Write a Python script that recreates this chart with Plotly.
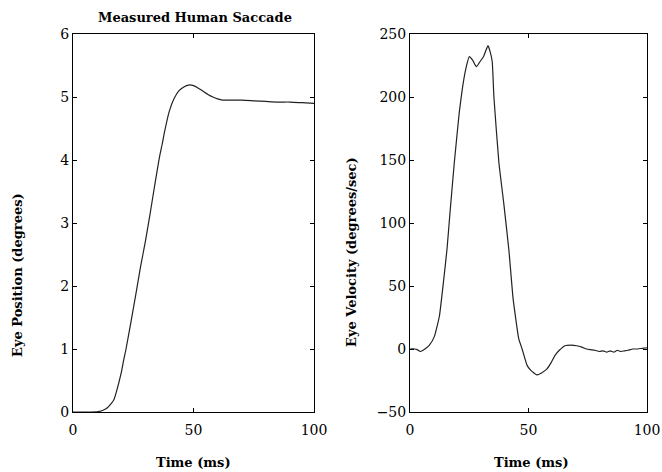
import plotly.graph_objects as go

# Eye position (degrees) vs time (ms)
pos_t = [0, 5, 10, 11, 12, 14, 16, 17, 18, 20, 21, 22, 24, 26, 28, 29, 30, 32, 34, 36,
         37, 38, 40, 42, 44, 46, 48, 50, 52, 54, 56, 58, 60, 62, 65, 70, 75, 80, 85, 90, 95, 100]
pos_v = [0, 0, 0.003, 0.01, 0.02, 0.06, 0.14, 0.2, 0.32, 0.62, 0.82, 1.0, 1.42, 1.85, 2.3, 2.5,
         2.7, 3.15, 3.62, 4.07, 4.25, 4.45, 4.78, 4.98, 5.1, 5.16, 5.19, 5.18, 5.14, 5.09, 5.04,
         5.0, 4.97, 4.95, 4.95, 4.95, 4.94, 4.93, 4.92, 4.92, 4.91, 4.9]

# Eye velocity (degrees/sec) vs time (ms)
vel_t = [0, 2, 3, 4.3, 5.5, 7, 8.2, 10.3, 12.4, 14.1, 15.6, 17, 18.7, 20.8, 22.2, 23.5, 25,
         26.5, 28, 29.5, 31, 32.9, 33.8, 34.7, 35.4, 37.5, 39.6, 41.7, 43.5, 45.9, 47.3, 49.4,
         51, 53.6, 55.5, 57.7, 59.5, 61.2, 63, 65.4, 68, 70.3, 72.5, 74.5, 76, 78, 80, 81.5,
         83, 84.5, 86, 87.5, 89, 90.5, 92, 94, 96, 98, 100]
vel_v = [0, 0, -0.5, -2, -1, 1, 3, 10, 26, 53, 79, 111, 148, 188, 208, 222, 232,
         229, 224, 228, 232, 240.7, 236, 228, 200, 148, 115, 79, 40, 8, 0, -13,
         -17, -20.6, -19, -16, -11, -5, -1, 2.6, 3, 2.6, 1.5, 0, -0.5, -1, -2, -1.5,
         -2.5, -1.5, -2.5, -1, -2, -1.5, -1, 0, 0, 0.5, 1]

x_ticks = [0, 50, 100]
pos_ticks = [0, 1, 2, 3, 4, 5, 6]
vel_ticks = [-50, 0, 50, 100, 150, 200, 250]

W, H = 662, 472
serif = "DejaVu Serif"
line_col = "#222222"

fig = go.Figure()
fig.add_trace(go.Scatter(x=pos_t, y=pos_v, mode="lines", xaxis="x", yaxis="y",
                         line=dict(color=line_col, width=1.2, shape="spline", smoothing=0.6),
                         showlegend=False))
fig.add_trace(go.Scatter(x=vel_t, y=vel_v, mode="lines", xaxis="x2", yaxis="y2",
                         line=dict(color=line_col, width=1.2, shape="spline", smoothing=0.4),
                         showlegend=False))

ax_common = dict(showline=True, linecolor="black", linewidth=1, mirror="ticks",
                 ticks="inside", ticklen=4, tickcolor="black", showgrid=False,
                 zeroline=False, tickfont=dict(family=serif, size=14, color="black"))

y_bot = 1 - 412 / H
y_top = 1 - 34 / H
fig.update_layout(
    width=W, height=H, autosize=False,
    margin=dict(l=0, r=0, t=0, b=0, pad=0, autoexpand=False),
    paper_bgcolor="white", plot_bgcolor="white",
    xaxis=dict(domain=[73 / W, 314 / W], range=[0, 100], tickvals=x_ticks,
               ticklabelstandoff=5, anchor="y", **ax_common),
    yaxis=dict(domain=[y_bot, y_top], range=[0, 6], tickvals=pos_ticks,
               anchor="x", **ax_common),
    xaxis2=dict(domain=[410 / W, 647 / W], range=[0, 100], tickvals=x_ticks,
                ticklabelstandoff=5, ticklabeloverflow="allow", anchor="y2", **ax_common),
    yaxis2=dict(domain=[y_bot, y_top], range=[-50, 250], tickvals=vel_ticks,
                anchor="x2", **ax_common),
)

lab_font = dict(family=serif, size=13, color="black")
annots = [
    dict(text="<b>Measured Human Saccade</b>", x=195 / W, y=1 - 17 / H),
    dict(text="<b>Time (ms)</b>", x=193 / W, y=1 - 462 / H),
    dict(text="<b>Time (ms)</b>", x=531 / W, y=1 - 462 / H),
    dict(text="<b>Eye Position (degrees)</b>", x=17 / W, y=1 - 275 / H, textangle=-90),
    dict(text="<b>Eye Velocity (degrees/sec)</b>", x=351 / W, y=1 - 252 / H, textangle=-90),
]
for a in annots:
    fig.add_annotation(xref="paper", yref="paper", showarrow=False, font=lab_font,
                       xanchor="center", yanchor="middle", **a)

fig.write_html("out.html", config={"responsive": False, "displayModeBar": False},
               post_script="document.body.style.margin='0';document.body.style.overflow='hidden';")
